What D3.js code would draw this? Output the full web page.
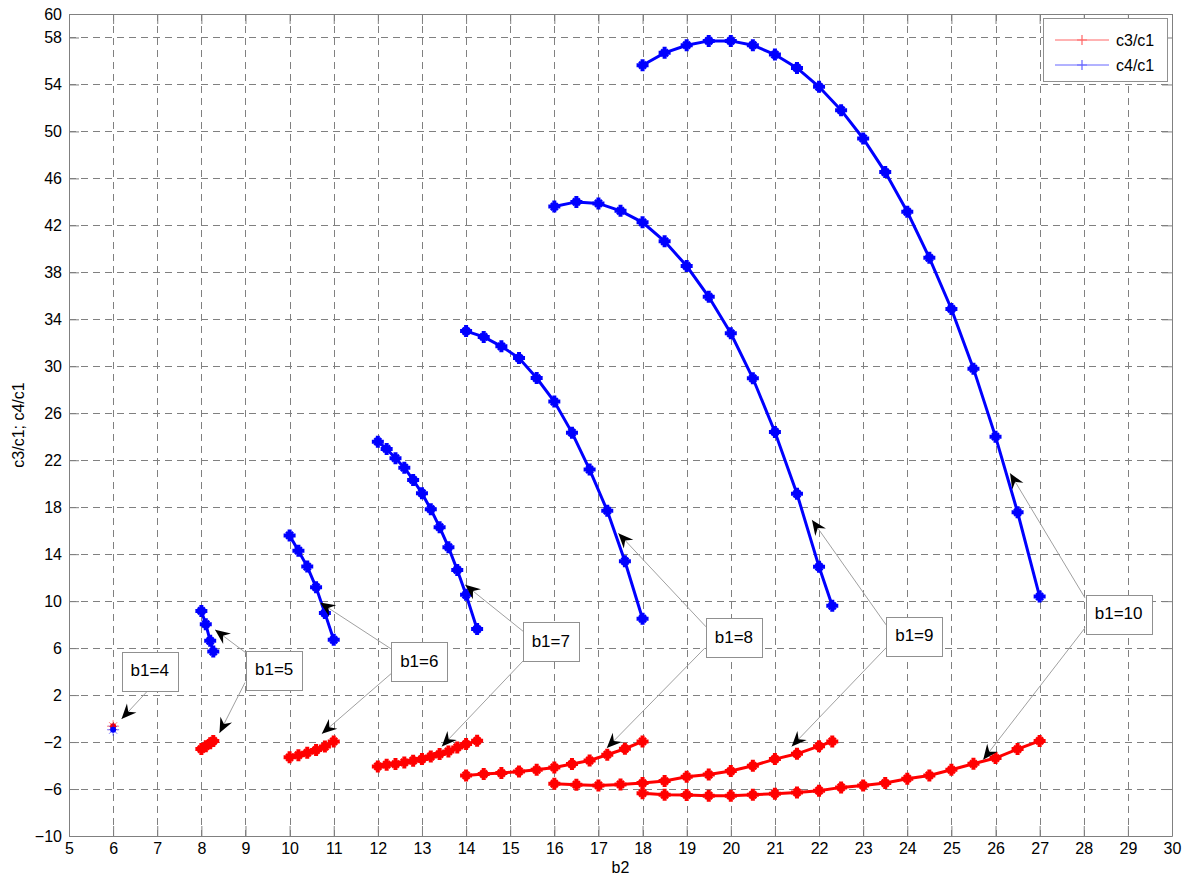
<!DOCTYPE html>
<html>
<head>
<meta charset="utf-8">
<script src="https://cdn.jsdelivr.net/npm/d3@7"></script>
<style>
body { margin: 0; background: #fff; }
svg { display: block; font-family: "Liberation Sans", Arial, sans-serif; }
</style>
</head>
<body>
<svg id="chart"></svg>
<script>
// ticks
const xTicks = [5,6,7,8,9,10,11,12,13,14,15,16,17,18,19,20,21,22,23,24,25,26,27,28,29,30];
const yTicks = [-10,-6,-2,2,6,10,14,18,22,26,30,34,38,42,46,50,54,58,60];

// b1 = 4 .. 10 : b2 values, c3/c1 and c4/c1
const b2_4 = [6];
const c3_4 = [-0.65];
const c4_4 = [-0.95];

const b2_5 = [8, 8.1, 8.2, 8.27];
const c3_5 = [-2.6, -2.35, -2.1, -1.9];
const c4_5 = [9.17, 8.04, 6.62, 5.71];

const b2_6 = [10, 10.2, 10.4, 10.6, 10.8, 11];
const c3_6 = [-3.3, -3.12, -2.92, -2.68, -2.38, -1.95];
const c4_6 = [15.6, 14.3, 12.94, 11.19, 8.98, 6.71];

const b2_7 = [12, 12.2, 12.4, 12.6, 12.8, 13, 13.2, 13.4, 13.6, 13.8, 14, 14.25];
const c3_7 = [-4.08, -3.93, -3.87, -3.74, -3.59, -3.45, -3.23, -3.02, -2.80, -2.46, -2.17, -1.89];
const c4_7 = [23.58, 22.96, 22.17, 21.37, 20.32, 19.19, 17.83, 16.30, 14.60, 12.66, 10.54, 7.62];

const b2_8 = [14, 14.4, 14.8, 15.2, 15.6, 16, 16.4, 16.8, 17.2, 17.6, 18];
const c3_8 = [-4.84, -4.72, -4.64, -4.50, -4.36, -4.16, -3.87, -3.57, -3.08, -2.57, -1.95];
const c4_8 = [33.0, 32.5, 31.7, 30.7, 29.0, 27.0, 24.35, 21.2, 17.7, 13.4, 8.5];

const b2_9 = [16, 16.5, 17, 17.5, 18, 18.5, 19, 19.5, 20, 20.5, 21, 21.5, 22, 22.3];
const c3_9 = [-5.55, -5.63, -5.69, -5.61, -5.49, -5.32, -4.95, -4.77, -4.47, -4.02, -3.45, -3.0, -2.35, -1.95];
const c4_9 = [43.6, 44.0, 43.87, 43.24, 42.26, 40.64, 38.54, 35.92, 32.81, 28.98, 24.41, 19.14, 12.92, 9.6];

const b2_10 = [18, 18.5, 19, 19.5, 20, 20.5, 21, 21.5, 22, 22.5, 23, 23.5, 24, 24.5, 25, 25.5, 26, 26.5, 27];
const c3_10 = [-6.35, -6.49, -6.5, -6.57, -6.57, -6.49, -6.40, -6.29, -6.14, -5.86, -5.69, -5.49, -5.12, -4.84, -4.36, -3.85, -3.36, -2.6, -1.9];
const c4_10 = [55.64, 56.69, 57.34, 57.71, 57.71, 57.34, 56.55, 55.41, 53.8, 51.81, 49.4, 46.54, 43.16, 39.24, 34.88, 29.8, 24.01, 17.57, 10.39];

// annotation boxes (data coords) and arrows [from, to]
const noteLabels = ['b1=4', 'b1=5', 'b1=6', 'b1=7', 'b1=8', 'b1=9', 'b1=10'];
const noteBoxes = [[6.83, 4.01], [9.65, 4.13], [12.94, 4.83], [15.92, 6.54], [20.07, 6.88], [24.16, 7.0], [28.79, 8.88]];
const noteArrows = [
    [[[6.77, 2.31], [6.19, -0.04]]],
    [[[9.09, 5.37], [8.31, 7.56]], [[8.99, 3.07], [8.41, -1.23]]],
    [[[12.33, 5.86], [10.69, 9.88]], [[12.33, 3.92], [10.73, -1.29]]],
    [[[15.30, 7.41], [13.98, 11.39]], [[15.30, 4.94], [13.45, -2.37]]],
    [[[19.44, 7.81], [17.45, 15.79]], [[19.41, 6.0], [17.19, -2.51]]],
    [[[23.52, 7.98], [21.84, 16.92]], [[23.52, 6.03], [21.38, -2.37]]],
    [[[28.03, 10.26], [26.33, 20.89]], [[28.03, 7.73], [25.72, -3.5]]]
];

const width = 1193;
const height = 879;
const margin = { top: 14, right: 21, bottom: 43, left: 69 };

const series = [
    { b2: b2_4, c3: c3_4, c4: c4_4, single: true },
    { b2: b2_5, c3: c3_5, c4: c4_5 },
    { b2: b2_6, c3: c3_6, c4: c4_6 },
    { b2: b2_7, c3: c3_7, c4: c4_7 },
    { b2: b2_8, c3: c3_8, c4: c4_8 },
    { b2: b2_9, c3: c3_9, c4: c4_9 },
    { b2: b2_10, c3: c3_10, c4: c4_10 }
];

const x = d3.scaleLinear().domain([5, 30]).range([margin.left, width - margin.right]);
const y = d3.scaleLinear().domain([-10, 60]).range([height - margin.bottom, margin.top]);

const svg = d3.select('#chart').attr('width', width).attr('height', height);
svg.append('rect').attr('width', width).attr('height', height).attr('fill', '#fff');

const axisColor = '#808080';

// grid
const grid = svg.append('g').attr('stroke', '#808080').attr('stroke-width', 1).attr('stroke-dasharray', '7,5');
grid.selectAll('line.v')
    .data(xTicks.filter(d => d > 5 && d < 30))
    .join('line')
        .attr('x1', d => Math.round(x(d)) + 0.5).attr('x2', d => Math.round(x(d)) + 0.5)
        .attr('y1', y(60)).attr('y2', y(-10));
grid.selectAll('line.h')
    .data(yTicks.filter(d => d > -10 && d < 60))
    .join('line')
        .attr('class', 'h')
        .attr('y1', d => Math.round(y(d)) + 0.5).attr('y2', d => Math.round(y(d)) + 0.5)
        .attr('x1', x(5)).attr('x2', x(30));

// axes
const tl = 10;
const xAxis = g => g
    .attr('transform', `translate(0,${y(-10)})`)
    .call(d3.axisBottom(x).tickValues(xTicks).tickFormat(d3.format('d')).tickSizeInner(-tl).tickSizeOuter(0).tickPadding(7));
const xAxisTop = g => g
    .attr('transform', `translate(0,${y(60)})`)
    .call(d3.axisTop(x).tickValues(xTicks).tickFormat('').tickSizeInner(-tl).tickSizeOuter(0));
const yAxis = g => g
    .attr('transform', `translate(${x(5)},0)`)
    .call(d3.axisLeft(y).tickValues(yTicks).tickFormat(d3.format('d')).tickSizeInner(-tl).tickSizeOuter(0).tickPadding(7));
const yAxisRight = g => g
    .attr('transform', `translate(${x(30)},0)`)
    .call(d3.axisRight(y).tickValues(yTicks).tickFormat('').tickSizeInner(-tl).tickSizeOuter(0));

[xAxis, xAxisTop, yAxis, yAxisRight].forEach(a => {
    svg.append('g').call(a)
        .call(g => g.selectAll('.domain, line').attr('stroke', axisColor))
        .call(g => g.selectAll('text').attr('fill', '#000').attr('font-size', 16)
            .attr('font-family', '"Liberation Sans", Arial, sans-serif'));
});

svg.append('text')
    .attr('x', (x(5) + x(30)) / 2).attr('y', 873)
    .attr('text-anchor', 'middle').attr('font-size', 16)
    .text('b2');
svg.append('text')
    .attr('transform', `translate(24,${(y(-10) + y(60)) / 2}) rotate(-90)`)
    .attr('text-anchor', 'middle').attr('font-size', 16)
    .text('c3/c1; c4/c1');

// curves
const plot = svg.append('g');
const line = d3.line().x(d => x(d[0])).y(d => y(d[1]));

const markerPath = 'M-6,0H6M0,-6V6';
const diagPath = 'M-3.5,-3.5L3.5,3.5M-3.5,3.5L3.5,-3.5';

function drawCurve(s, key, color) {
    const pts = s.b2.map((b, i) => [b, s[key][i]]);
    if (s.single) {
        const g = plot.append('g').attr('transform', `translate(${x(pts[0][0])},${y(pts[0][1])})`);
        g.append('path').attr('d', 'M-6,0H6M0,-6V6M-4,-4L4,4M-4,4L4,-4')
            .attr('stroke', color).attr('stroke-width', 1).attr('opacity', 0.55);
        g.append('circle').attr('r', 3).attr('fill', color);
        return;
    }
    plot.append('path')
        .datum(pts)
        .attr('d', line)
        .attr('fill', 'none')
        .attr('stroke', color)
        .attr('stroke-width', 3);
    const m = plot.append('g').selectAll('g')
        .data(pts)
        .join('g')
            .attr('transform', d => `translate(${x(d[0])},${y(d[1])})`);
    m.append('path').attr('d', markerPath).attr('stroke', color).attr('stroke-width', 4);
    m.append('path').attr('d', diagPath).attr('stroke', color).attr('stroke-width', 2.5);
}

series.forEach(s => drawCurve(s, 'c3', '#ff0000'));
series.forEach(s => drawCurve(s, 'c4', '#0000ff'));

// annotations
const notes = svg.append('g');
noteArrows.forEach(arrows => {
    arrows.forEach(([from, to]) => {
        const x1 = x(from[0]), y1 = y(from[1]);
        const x2 = x(to[0]), y2 = y(to[1]);
        const ang = Math.atan2(y2 - y1, x2 - x1) * 180 / Math.PI;
        notes.append('line')
            .attr('x1', x1).attr('y1', y1).attr('x2', x2).attr('y2', y2)
            .attr('stroke', '#a0a0a0').attr('stroke-width', 1);
        notes.append('path')
            .attr('d', 'M0,0L-15,-6.5L-10,0L-15,6.5Z')
            .attr('transform', `translate(${x2},${y2}) rotate(${ang})`)
            .attr('fill', '#000');
    });
});

noteLabels.forEach((lab, i) => {
    const cx = x(noteBoxes[i][0]);
    const cy = y(noteBoxes[i][1]);
    const g = notes.append('g');
    const t = g.append('text')
        .attr('x', cx).attr('y', cy + 5)
        .attr('text-anchor', 'middle').attr('font-size', 17)
        .text(lab);
    const w = t.node().getComputedTextLength() + 18;
    const h = 39;
    g.insert('rect', 'text')
        .attr('x', Math.round(cx - w / 2) + 0.5).attr('y', Math.round(cy - h / 2) + 0.5)
        .attr('width', Math.round(w)).attr('height', h)
        .attr('fill', '#fff').attr('stroke', '#909090').attr('stroke-width', 1);
});

// legend
const legend = svg.append('g');
legend.append('rect')
    .attr('x', 1043.5).attr('y', 18.5).attr('width', 124).attr('height', 63)
    .attr('fill', '#fff').attr('stroke', '#909090');
const legendItems = [['c3/c1', '#ff6666'], ['c4/c1', '#6666ff']];
legendItems.forEach(([name, color], i) => {
    const ly = 40 + i * 25;
    legend.append('line')
        .attr('x1', 1055).attr('x2', 1109).attr('y1', ly).attr('y2', ly)
        .attr('stroke', color).attr('stroke-width', 1);
    legend.append('path')
        .attr('d', 'M-5,0H5M0,-5V5')
        .attr('transform', `translate(1082,${ly})`)
        .attr('stroke', color).attr('stroke-width', 1.2);
    legend.append('text')
        .attr('x', 1116).attr('y', ly + 6)
        .attr('font-size', 16)
        .text(name);
});
</script>
</body>
</html>
